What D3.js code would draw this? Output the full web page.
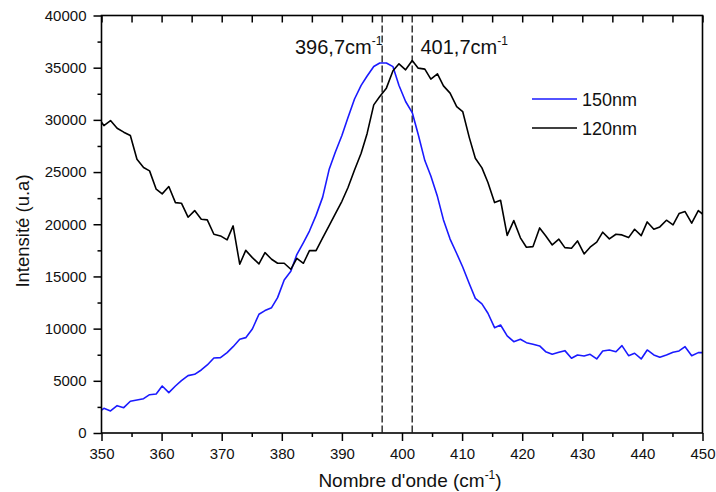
<!DOCTYPE html>
<html>
<head>
<meta charset="utf-8">
<script src="https://cdn.jsdelivr.net/npm/d3@7"></script>
<style>
  html, body { margin: 0; padding: 0; background: #fff; }
  svg { display: block; font-family: "Liberation Sans", Arial, sans-serif; }
</style>
</head>
<body>
<svg id="chart" width="716" height="492"></svg>
<script>
// Wavenumbers (cm-1) of the sampled points
const wavenumbers = [349.3,350.4,351.5,352.6,353.7,354.8,355.9,357.0,358.0,359.1,360.1,361.2,362.3,363.3,364.4,365.5,366.6,367.6,368.7,369.8,370.9,371.9,373.0,374.0,375.1,376.2,377.2,378.3,379.3,380.4,381.5,382.5,383.6,384.6,385.7,386.8,387.9,388.9,390.0,391.0,392.1,393.2,394.2,395.3,396.3,397.4,398.5,399.5,400.6,401.7,402.7,403.8,404.8,405.9,406.9,408.0,409.1,410.1,411.2,412.2,413.3,414.3,415.4,416.4,417.5,418.6,419.7,420.7,421.8,422.9,423.9,425.0,426.1,427.1,428.2,429.2,430.3,431.3,432.4,433.4,434.5,435.6,436.6,437.7,438.7,439.8,440.8,441.9,442.9,444.0,445.1,446.1,447.1,448.2,449.3,450.4];

const series150 = [1900,2365,2109,2620,2428,3038,3163,3290,3670,3738,4505,3866,4505,5016,5496,5624,6039,6518,7189,7221,7700,8272,8976,9136,9968,11377,11727,12010,12970,14665,15500,17100,18250,19350,20850,22600,25300,26900,28500,30200,32000,33300,34200,35110,35450,35450,35100,33300,31760,30700,28600,26100,24630,22650,20416,18580,17200,15900,14300,12900,12365,11473,10093,10350,9300,8750,8980,8655,8500,8340,7790,7540,7730,7890,7160,7476,7380,7540,7093,7860,7955,7790,8370,7410,7640,7093,7955,7476,7253,7476,7730,7860,8272,7410,7700,7700];

const series120 = [30300,29455,29934,29200,28822,28500,26232,25430,25113,23356,22908,23612,22075,22016,20675,21311,20483,20416,19044,18882,18500,19841,16170,17500,16800,16200,17282,16645,16262,16262,15686,16741,16262,17474,17474,18700,19900,21000,22200,23500,25200,26800,28700,31440,32235,33040,34700,35370,34795,35685,34957,34860,33900,34410,33260,32560,31277,30800,28300,26330,25400,24000,22075,22300,18930,20350,18700,17800,17860,19650,18900,18020,18567,17762,17704,18403,17157,17800,18280,19238,18595,19043,18978,18720,19520,18911,20224,19520,19745,20387,19937,21024,21215,20100,21311,20800];

const seriesNames = ["150nm", "120nm"];
const seriesColors = ["#1a1aff", "#000000"];
const peakPositions = [396.7, 401.7];
const peakLabels = ["396,7cm", "401,7cm"];
const xTicks = [350,360,370,380,390,400,410,420,430,440,450];
const yTicks = [0,5000,10000,15000,20000,25000,30000,35000,40000];

const svg = d3.select("#chart");
const pL = 101.5, pR = 702.5, pT = 15.5, pB = 433;

const x = d3.scaleLinear().domain([350, 450]).range([pL, pR]);
const y = d3.scaleLinear().domain([0, 40000]).range([pB, pT]);

svg.append("defs").append("clipPath").attr("id", "plotclip")
  .append("rect").attr("x", pL).attr("y", pT).attr("width", pR - pL).attr("height", pB - pT);

// Dashed peak markers
svg.append("g").selectAll("line").data(peakPositions).join("line")
  .attr("x1", d => x(d)).attr("x2", d => x(d))
  .attr("y1", pT).attr("y2", pB)
  .attr("stroke", "#333").attr("stroke-width", 1.5)
  .attr("stroke-dasharray", "7,3");

// Curves
const line = d3.line().x((d, i) => x(wavenumbers[i])).y(d => y(d));
const plotG = svg.append("g").attr("clip-path", "url(#plotclip)");
[series150, series120].forEach((s, k) => {
  plotG.append("path").datum(s)
    .attr("fill", "none")
    .attr("stroke", seriesColors[k])
    .attr("stroke-width", 1.6)
    .attr("stroke-linejoin", "round")
    .attr("d", line);
});

// Axes
const xMinor = d3.range(355, 450, 10);
const yMinor = d3.range(2500, 40000, 5000);

function styleAxis(g) {
  g.selectAll(".domain").remove();
  g.selectAll("line").attr("stroke", "#000").attr("stroke-width", 1.5);
  g.selectAll("text").attr("fill", "#111").style("font-size", "15px")
    .style("font-family", '"Liberation Sans", Arial, sans-serif');
}

svg.append("g").attr("transform", `translate(0,${pB})`)
  .call(d3.axisBottom(x).tickValues(xTicks).tickFormat(d3.format("d")).tickSize(8).tickPadding(7))
  .call(styleAxis);
svg.append("g").attr("transform", `translate(0,${pB})`)
  .call(d3.axisBottom(x).tickValues(xMinor).tickFormat("").tickSize(4))
  .call(styleAxis);
svg.append("g").attr("transform", `translate(${pL},0)`)
  .call(d3.axisLeft(y).tickValues(yTicks).tickFormat(d3.format("d")).tickSize(8).tickPadding(7))
  .call(styleAxis);
svg.append("g").attr("transform", `translate(${pL},0)`)
  .call(d3.axisLeft(y).tickValues(yMinor).tickFormat("").tickSize(4))
  .call(styleAxis);
// top mirror ticks (inward)
svg.append("g").attr("transform", `translate(0,${pT})`)
  .call(d3.axisTop(x).tickValues(xTicks.concat(xMinor)).tickFormat("").tickSize(-7))
  .call(styleAxis);

// Frame
svg.append("rect").attr("x", pL).attr("y", pT)
  .attr("width", pR - pL).attr("height", pB - pT)
  .attr("fill", "none").attr("stroke", "#000").attr("stroke-width", 1.6);

// Axis titles
const xt = svg.append("text").attr("x", 410).attr("y", 487)
  .attr("text-anchor", "middle").style("font-size", "19px").attr("fill", "#111");
xt.append("tspan").text("Nombre d'onde (cm");
xt.append("tspan").attr("dy", -8).style("font-size", "12px").text("-1");
xt.append("tspan").attr("dy", 8).text(")");

svg.append("text").attr("transform", "translate(29,231) rotate(-90)")
  .attr("text-anchor", "middle").style("font-size", "18.5px").attr("fill", "#111")
  .text("Intensité (u.a)");

// Peak annotations
const ann = [
  { x: 295, anchor: "start" },
  { x: 420.5, anchor: "start" }
];
peakLabels.forEach((lab, i) => {
  const t = svg.append("text").attr("x", ann[i].x).attr("y", 54)
    .style("font-size", "20px").attr("fill", "#111");
  t.append("tspan").text(lab);
  t.append("tspan").attr("dy", -9).style("font-size", "12px").text("-1");
});

// Legend
const legendY = [99, 128];
seriesNames.forEach((name, i) => {
  svg.append("line").attr("x1", 532).attr("x2", 577)
    .attr("y1", legendY[i]).attr("y2", legendY[i])
    .attr("stroke", seriesColors[i]).attr("stroke-width", 1.6);
  svg.append("text").attr("x", 582).attr("y", legendY[i] + 7)
    .style("font-size", "18px").attr("fill", "#111").text(name);
});
</script>
</body>
</html>
